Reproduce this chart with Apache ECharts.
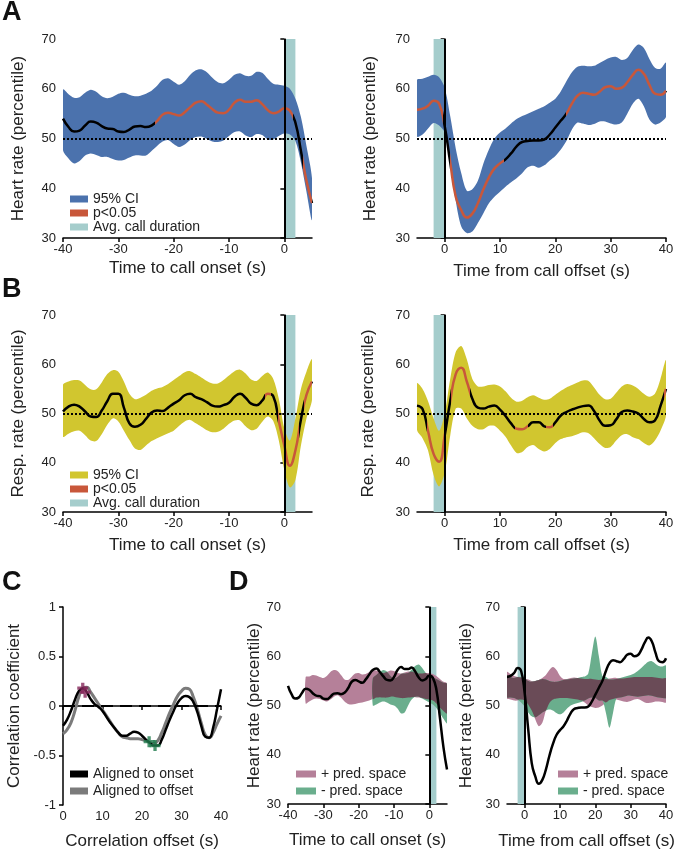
<!DOCTYPE html>
<html>
<head>
<meta charset="utf-8">
<script src="https://cdn.jsdelivr.net/npm/echarts@6/dist/echarts.min.js"></script>
<style>
html, body { margin: 0; padding: 0; background: #fff; }
#fig { width: 679px; height: 853px; }
</style>
</head>
<body>
<div id="fig"></div>
<script>
// time axes (s)
var tOnset = [-40,-39,-38,-37,-36,-35,-34,-33,-32,-31,-30,-29,-28,-27,-26,-25,-24,-23,-22,-21,-20,-19,-18,-17,-16,-15,-14,-13,-12,-11,-10,-9,-8,-7,-6,-5,-4,-3,-2,-1,0,1,2,3,4,5];
var tOffset = [-5,-4,-3,-2,-1,0,1,2,3,4,5,6,7,8,9,10,11,12,13,14,15,16,17,18,19,20,21,22,23,24,25,26,27,28,29,30,31,32,33,34,35,36,37,38,39,40];
var lags = [0,1,2,3,4,5,6,7,8,9,10,11,12,13,14,15,16,17,18,19,20,21,22,23,24,25,26,27,28,29,30,31,32,33,34,35,36,37,38,39,40];
var tPosOnset = [-35,-34,-33,-32,-31,-30,-29,-28,-27,-26,-25,-24,-23,-22,-21,-20,-19,-18,-17,-16,-15,-14,-13,-12,-11,-10,-9,-8,-7,-6,-5,-4,-3,-2,-1,0,1,2,3,4,5];
var tNegOnset = [-16,-15,-14,-13,-12,-11,-10,-9,-8,-7,-6,-5,-4,-3,-2,-1,0,1,2,3,4,5];

var onsetTicks = [-40, -30, -20, -10, 0];
var offsetTicks = [0, 10, 20, 30, 40];

// A: heart rate
var hrOnMean = [54.0,52.3,51.4,51.6,52.6,53.4,53.2,52.5,52.0,51.9,51.4,51.3,51.8,52.4,52.5,52.3,52.6,53.5,54.8,55.2,54.9,54.6,55.3,56.3,57.2,57.5,56.8,55.9,55.2,55.1,55.8,57.2,57.8,57.4,57.4,57.7,56.9,55.7,55.1,55.4,56.1,55.6,53.2,47.5,41.5,37.0];
var hrOnHi = [59.8,58.9,58.2,58.3,59.2,59.8,59.4,58.5,58.1,58.4,59.0,59.2,58.8,58.5,58.6,59.0,59.6,60.6,61.8,62.1,61.4,60.8,61.5,62.8,63.7,63.9,63.3,62.2,61.3,61.1,61.8,62.8,63.1,62.6,62.6,63.4,63.2,62.0,61.0,60.8,60.6,60.0,58.0,54.3,48.5,42.0];
var hrOnLo = [47.7,46.0,45.0,45.5,46.6,47.0,46.7,46.3,46.3,45.9,45.6,45.7,46.2,46.6,46.6,46.6,47.5,48.5,49.4,49.7,48.9,48.3,48.8,49.7,50.3,50.4,49.9,49.4,49.3,49.6,50.5,51.3,51.4,50.6,50.3,50.9,50.7,49.8,49.8,50.5,51.0,50.8,49.5,45.2,39.3,33.6];
var hrOnSig = [[-23.3, 1.6], [3.4, 5]];

var hrOffMean = [55.8,56.0,56.6,57.6,57.0,52.5,45.2,38.3,35.6,34.1,34.9,37.0,39.8,42.2,44.0,45.0,45.8,47.0,48.4,49.3,49.5,49.6,49.6,49.8,50.8,52.2,53.6,55.0,57.0,58.6,59.2,59.0,58.8,59.4,60.3,60.5,60.0,60.2,61.3,62.8,63.8,63.0,60.8,59.0,58.8,59.6];
var hrOffHi = [61.8,62.0,62.4,62.8,62.3,60.2,54.5,48.0,43.0,39.5,39.8,41.5,45.0,47.8,50.0,51.2,52.0,53.0,53.9,54.5,55.0,55.5,56.0,56.5,57.2,58.0,59.5,61.5,63.3,64.4,64.6,64.5,64.6,65.2,65.8,66.3,66.4,65.8,66.2,67.8,68.9,68.2,66.0,64.2,64.0,65.2];
var hrOffLo = [50.4,50.8,52.0,53.1,52.6,51.2,45.5,37.5,32.3,31.0,31.3,33.0,35.0,37.0,38.3,39.3,40.3,41.2,42.0,43.0,44.2,44.5,44.1,44.6,45.6,46.5,47.8,49.5,51.8,53.2,53.0,52.7,52.9,53.4,53.4,53.0,52.8,53.2,55.0,57.0,58.0,56.5,53.8,52.8,53.2,54.4];
var hrOffSig = [[-5, -0.3], [0.9, 10.7], [22, 40]];

// B: respiration rate
var rrOnMean = [50.4,51.4,51.8,51.4,50.4,49.4,49.3,50.6,52.5,54.0,54.0,51.2,48.0,47.3,47.7,48.9,50.2,50.6,50.5,51.2,52.0,52.7,53.7,54.0,53.3,52.9,52.3,51.6,51.4,51.7,52.2,53.4,54.0,53.2,52.0,51.7,52.6,54.0,53.5,48.5,43.5,39.4,42.5,48.8,53.8,56.5];
var rrOnHi = [55.8,56.5,56.8,56.7,55.8,54.9,54.9,56.3,58.0,58.8,58.5,56.5,54.0,52.9,53.2,53.8,54.6,55.1,55.4,56.0,56.8,57.6,58.4,58.6,58.0,57.3,56.6,56.1,56.1,56.8,57.7,58.6,58.9,58.1,56.9,56.6,57.6,58.3,57.0,53.0,47.0,44.5,49.0,55.0,58.5,61.0];
var rrOnLo = [45.3,45.9,46.4,46.5,45.6,44.5,44.4,45.8,47.7,49.0,48.4,46.5,44.6,42.9,42.6,43.5,44.4,45.0,45.5,46.0,46.5,47.5,48.4,48.7,48.0,47.3,46.6,46.2,46.3,46.9,47.9,48.6,48.6,47.4,46.6,46.9,48.3,49.4,48.5,44.5,38.5,35.0,36.5,43.5,49.0,52.8];
var rrOnSig = [[-3.5, -2.4], [-1.1, 2.6], [3.5, 5]];

var rrOffMean = [51.6,50.9,46.4,41.8,40.2,45.5,52.5,58.0,59.3,56.5,53.0,51.2,51.0,51.4,51.6,50.8,49.5,48.0,46.9,46.8,47.4,48.2,48.2,47.4,47.2,48.2,49.6,50.3,50.8,51.2,51.5,51.6,50.5,48.6,47.5,47.6,48.8,50.3,50.6,50.4,50.0,48.9,48.2,48.6,51.5,55.0];
var rrOffHi = [56.1,55.0,52.5,49.0,46.5,50.0,57.0,62.5,63.7,61.0,57.0,55.5,55.5,55.8,55.9,55.5,54.5,53.2,52.4,52.6,53.3,53.7,53.2,52.8,53.0,53.8,54.6,55.3,55.8,56.3,56.7,56.6,55.3,53.8,52.9,53.0,54.2,55.5,56.0,55.7,55.0,54.0,53.4,54.0,57.0,60.8];
var rrOffLo = [46.7,45.0,42.5,37.5,35.2,38.0,45.5,51.0,51.0,49.0,47.5,46.8,46.8,47.5,47.5,46.5,45.3,43.5,42.0,42.2,43.2,43.6,42.8,42.3,42.8,44.0,44.8,45.2,45.4,45.8,46.2,46.0,45.0,43.8,43.0,43.2,44.5,45.6,45.8,45.2,44.8,44.0,43.5,44.5,46.5,49.7];
var rrOffSig = [[-3.2, 0.3], [1.2, 4.6], [12.7, 15.1], [18.4, 19.6], [39.6, 40]];

// C: correlation
var corrOnset = [-0.20,-0.14,-0.05,0.06,0.15,0.18,0.14,0.07,0.02,-0.01,-0.05,-0.11,-0.17,-0.22,-0.27,-0.30,-0.30,-0.28,-0.26,-0.27,-0.30,-0.34,-0.37,-0.40,-0.40,-0.34,-0.24,-0.14,-0.05,0.03,0.08,0.10,0.09,0.04,-0.06,-0.20,-0.31,-0.32,-0.22,-0.03,0.17];
var corrOffset = [-0.28,-0.24,-0.17,-0.05,0.09,0.18,0.19,0.14,0.08,0.02,-0.04,-0.10,-0.16,-0.22,-0.27,-0.31,-0.32,-0.33,-0.33,-0.33,-0.34,-0.35,-0.37,-0.38,-0.35,-0.27,-0.17,-0.07,0.02,0.10,0.15,0.18,0.17,0.09,-0.03,-0.17,-0.29,-0.32,-0.27,-0.18,-0.10];
var peakPos = [[5.0, 0.18], [5.6, 0.14]];
var peakNeg = [[21.8, -0.36], [23.3, -0.40]];

// D: prediction spaces
var posOnHi = [55.8,55.9,56.2,56.1,55.8,55.6,56.0,56.8,57.2,57.0,56.2,55.3,55.2,55.8,56.5,56.6,56.3,56.4,56.8,57.1,57.1,56.8,56.6,56.8,57.1,57.0,56.6,56.5,56.7,56.9,56.9,56.6,56.5,56.5,56.6,56.6,56.4,56.0,55.4,54.8,54.5];
var posOnLo = [50.4,50.8,51.2,51.4,51.3,51.0,50.8,51.2,51.8,52.1,51.6,50.8,50.3,50.2,50.3,50.5,50.6,50.8,51.0,51.3,51.6,51.7,51.6,51.6,51.8,51.8,51.6,51.5,51.5,51.6,51.7,51.7,51.6,51.5,51.3,51.2,51.0,50.4,49.6,48.9,48.4];
var negOnHi = [55.5,56.2,56.8,57.2,56.9,56.0,55.5,55.8,56.4,56.5,56.6,57.3,58.0,58.3,57.6,56.6,56.0,55.7,55.4,55.0,54.6,54.4];
var negOnLo = [50.0,50.2,50.6,50.8,50.6,50.2,50.0,49.4,48.4,48.6,50.0,51.2,51.8,51.8,51.4,51.0,50.6,50.2,49.5,48.5,47.3,46.4];

var posOffHi = [56.8,56.4,56.0,55.8,55.7,55.5,55.3,55.0,55.0,55.2,55.6,56.2,57.2,57.8,57.2,56.0,55.4,55.4,55.6,55.7,55.6,55.5,55.4,55.4,55.4,55.3,55.2,55.3,55.4,55.5,55.6,55.6,55.5,55.5,55.6,55.7,55.8,55.8,55.8,55.8,55.8,55.8,55.7,55.6,55.5,55.5];
var posOffLo = [51.4,51.2,51.0,51.0,51.2,51.0,50.2,49.0,47.2,45.8,46.5,49.0,50.5,51.2,51.4,51.5,51.5,51.5,51.4,51.3,51.2,51.0,50.6,50.0,49.7,49.5,49.6,50.0,50.6,51.1,51.3,51.2,51.0,50.8,50.7,50.9,51.2,51.3,51.0,50.6,50.5,50.6,50.8,50.8,50.7,50.6];
var negOffHi = [56.1,55.8,55.6,55.8,55.8,55.5,55.0,54.8,55.0,55.2,55.4,55.3,55.0,54.8,54.8,55.0,55.2,55.3,55.4,55.5,55.6,55.8,55.9,56.5,60.5,64.0,60.0,56.0,55.8,55.3,55.3,55.4,55.6,55.8,56.0,56.2,56.5,57.0,57.6,58.3,58.9,59.0,58.5,58.0,57.9,58.1];
var negOffLo = [51.7,51.6,51.5,51.2,50.6,49.8,48.6,47.8,47.6,48.0,48.6,49.0,49.2,49.0,48.5,48.2,48.6,49.4,50.0,50.3,50.5,50.7,51.0,51.4,51.6,51.5,51.0,51.0,48.5,45.5,48.5,51.5,51.6,51.8,52.0,52.0,51.9,51.8,51.9,52.0,52.1,52.0,51.8,51.6,51.5,51.5];

var ink = '#222';
var ciBlue = '#4b72ad';
var ciYellow = '#d1c62f';
var sigRed = '#c8573a';
var durTeal = '#a5cdcc';
var posPink = '#b58099';
var negGreen = '#6aae8d';
var bothDark = '#6a4b57';
var offsetGray = '#7b7b7b';

var fig = echarts.init(document.getElementById('fig'));

function pairs(xs, ys) {
    return xs.map(function (x, i) { return [x, ys[i]]; });
}

var series = [];
var visualMaps = [];

// filled band between lo and hi, drawn as one smoothed polygon
function addBand(g, xs, lo, hi, color, z) {
    var pts = xs.map(function (x, i) { return [x, lo[i], Math.max(hi[i], lo[i])]; });
    series.push({
        type: 'custom', xAxisIndex: g, yAxisIndex: g, silent: true, z: z, clip: true,
        data: pts, encode: {x: 0, y: [1, 2]},
        renderItem: function (params, api) {
            if (params.dataIndex !== 0) return null;
            var top = pts.map(function (p) { return api.coord([p[0], p[2]]); });
            var bottom = pts.map(function (p) { return api.coord([p[0], p[1]]); }).reverse();
            return {
                type: 'polygon',
                shape: {points: top.concat(bottom), smooth: 0.3},
                style: {fill: color}
            };
        }
    });
}

function addMean(g, xs, ys, sig) {
    var s = {
        type: 'line', xAxisIndex: g, yAxisIndex: g, silent: true, z: 4,
        data: pairs(xs, ys), smooth: true, symbol: 'none',
        lineStyle: {width: 2.5}
    };
    if (!sig) s.lineStyle.color = '#000';
    series.push(s);
    if (sig) {
        visualMaps.push({
            type: 'piecewise', show: false, dimension: 0, seriesIndex: series.length - 1,
            pieces: sig.map(function (r) { return {gte: r[0], lte: r[1], color: sigRed}; }),
            outOfRange: {color: '#000'}
        });
    }
}

// call duration strip (under or over the bands) and the onset/offset and chance lines on top
function addCallMarks(g, dur, dotted, areaZ) {
    series.push({
        type: 'line', xAxisIndex: g, yAxisIndex: g, data: [], silent: true, z: areaZ,
        markArea: {silent: true, itemStyle: {color: durTeal}, data: [[{xAxis: dur[0]}, {xAxis: dur[1]}]]}
    });
    var lines = [{xAxis: 0, lineStyle: {color: '#000', width: 2, type: 'solid'}}];
    if (dotted) lines.push({yAxis: 50, lineStyle: {color: '#000', width: 2, type: [2, 2]}});
    series.push({
        type: 'line', xAxisIndex: g, yAxisIndex: g, data: [], silent: true, z: 5,
        markLine: {silent: true, symbol: 'none', label: {show: false}, data: lines}
    });
}

function legendKey(g, name, color) {
    series.push({type: 'bar', name: name, xAxisIndex: g, yAxisIndex: g, data: [], itemStyle: {color: color}});
}

// overlap of the two prediction spaces
function overlap(xsA, loA, hiA, xsB, loB, hiB) {
    var xs = [], lo = [], hi = [];
    xsB.forEach(function (x, i) {
        var j = xsA.indexOf(x);
        if (j < 0) return;
        var l = Math.max(loA[j], loB[i]), h = Math.min(hiA[j], hiB[i]);
        xs.push(x); lo.push(l); hi.push(Math.max(h, l));
    });
    return {xs: xs, lo: lo, hi: hi};
}

// A
addCallMarks(0, [0, 2], true, 1);
addBand(0, tOnset, hrOnLo, hrOnHi, ciBlue, 2);
addMean(0, tOnset, hrOnMean, hrOnSig);
addCallMarks(1, [-2, 0], true, 1);
addBand(1, tOffset, hrOffLo, hrOffHi, ciBlue, 2);
addMean(1, tOffset, hrOffMean, hrOffSig);
legendKey(0, 'ciA', ciBlue);
legendKey(0, 'sig', sigRed);
legendKey(0, 'dur', durTeal);

// B
addCallMarks(2, [0, 2], true, 1);
addBand(2, tOnset, rrOnLo, rrOnHi, ciYellow, 2);
addMean(2, tOnset, rrOnMean, rrOnSig);
addCallMarks(3, [-2, 0], true, 1);
addBand(3, tOffset, rrOffLo, rrOffHi, ciYellow, 2);
addMean(3, tOffset, rrOffMean, rrOffSig);
legendKey(2, 'ciB', ciYellow);

// C
series.push({
    type: 'line', xAxisIndex: 4, yAxisIndex: 4, data: [], silent: true, z: 2,
    markLine: {silent: true, symbol: 'none', label: {show: false},
        data: [{yAxis: 0, lineStyle: {color: '#000', width: 2, type: [12, 7]}}]}
});
series.push({type: 'line', xAxisIndex: 4, yAxisIndex: 4, data: pairs(lags, corrOffset), smooth: true,
    symbol: 'none', silent: true, z: 3, lineStyle: {width: 3, color: offsetGray}});
series.push({type: 'line', xAxisIndex: 4, yAxisIndex: 4, data: pairs(lags, corrOnset), smooth: true,
    symbol: 'none', silent: true, z: 4, lineStyle: {width: 2.5, color: '#000'}});
var plusPath = 'path://M3.5,0h3v3.5h3.5v3h-3.5v3.5h-3v-3.5h-3.5v-3h3.5z';
series.push({type: 'scatter', xAxisIndex: 4, yAxisIndex: 4, data: peakPos, symbol: plusPath,
    symbolSize: 11, silent: true, z: 6, itemStyle: {color: '#86285b'}});
series.push({type: 'scatter', xAxisIndex: 4, yAxisIndex: 4, data: peakNeg, symbol: plusPath,
    symbolSize: 11, silent: true, z: 6, itemStyle: {color: '#1e7b4c'}});
legendKey(4, 'onsetKey', '#000');
legendKey(4, 'offsetKey', offsetGray);

// D
var ovOn = overlap(tPosOnset, posOnLo, posOnHi, tNegOnset, negOnLo, negOnHi);
addBand(5, tPosOnset, posOnLo, posOnHi, posPink, 2);
addBand(5, tNegOnset, negOnLo, negOnHi, negGreen, 2);
addBand(5, ovOn.xs, ovOn.lo, ovOn.hi, bothDark, 2);
addCallMarks(5, [0, 2], false, 3);
addMean(5, tOnset, hrOnMean, null);

var ovOff = overlap(tOffset, posOffLo, posOffHi, tOffset, negOffLo, negOffHi);
addBand(6, tOffset, posOffLo, posOffHi, posPink, 2);
addBand(6, tOffset, negOffLo, negOffHi, negGreen, 2);
addBand(6, ovOff.xs, ovOff.lo, ovOff.hi, bothDark, 2);
addCallMarks(6, [-2, 0], false, 3);
addMean(6, tOffset, hrOffMean, null);
legendKey(5, 'posKey', posPink);
legendKey(5, 'negKey', negGreen);

var legendText = {
    ciA: '95% CI', ciB: '95% CI', sig: 'p<0.05', dur: 'Avg. call duration',
    onsetKey: 'Aligned to onset', offsetKey: 'Aligned to offset',
    posKey: '+ pred. space', negKey: '- pred. space'
};

function legendAt(left, top, names, w, lh) {
    return {
        left: left, top: top, orient: 'vertical', icon: 'rect', selectedMode: false,
        itemWidth: w, itemHeight: 7, itemGap: lh > 13 ? 3 : 0, padding: 0,
        data: names,
        formatter: function (n) { return legendText[n]; },
        textStyle: {fontSize: 14, color: ink, lineHeight: lh}
    };
}

function xAx(g, min, max, ticks, name, gap) {
    return {
        type: 'value', gridIndex: g, min: min, max: max,
        name: name, nameLocation: 'middle', nameGap: gap,
        nameTextStyle: {fontSize: 17, color: ink},
        axisLine: {lineStyle: {color: '#000', width: 1.5}},
        axisTick: {customValues: ticks, length: 4, lineStyle: {color: '#000', width: 1.5}},
        axisLabel: {customValues: ticks, fontSize: 13, color: ink, margin: 5},
        splitLine: {show: false}
    };
}

function yAx(g, min, max, step, name, gap) {
    return {
        type: 'value', gridIndex: g, min: min, max: max, interval: step,
        name: name, nameLocation: 'middle', nameGap: gap,
        nameTextStyle: {fontSize: 17, color: ink},
        axisLine: {show: true, lineStyle: {color: '#000', width: 1.5}},
        axisTick: {show: true, length: 4, lineStyle: {color: '#000', width: 1.5}},
        axisLabel: {fontSize: 13, color: ink, margin: 7},
        splitLine: {show: false}
    };
}

var letterFont = 'bold 27px "Liberation Sans", Arial, sans-serif';

fig.setOption({
    animation: false,
    textStyle: {fontFamily: '"Liberation Sans", Arial, sans-serif'},
    grid: [
        {left: 63, top: 39, width: 249, height: 199},
        {left: 417, top: 39, width: 249, height: 199},
        {left: 63, top: 315, width: 249, height: 197},
        {left: 417, top: 315, width: 249, height: 197},
        {left: 63, top: 607, width: 158, height: 198},
        {left: 288, top: 607, width: 159, height: 197},
        {left: 507, top: 607, width: 159, height: 197}
    ],
    xAxis: [
        xAx(0, -40, 5, onsetTicks, 'Time to call onset (s)', 22),
        xAx(1, -5, 40, offsetTicks, 'Time from call offset (s)', 25),
        xAx(2, -40, 5, onsetTicks, 'Time to call onset (s)', 25),
        xAx(3, -5, 40, offsetTicks, 'Time from call offset (s)', 25),
        xAx(4, 0, 40, offsetTicks, 'Correlation offset (s)', 28),
        xAx(5, -40, 5, onsetTicks, 'Time to call onset (s)', 28),
        xAx(6, -5, 40, offsetTicks, 'Time from call offset (s)', 29)
    ],
    yAxis: [
        yAx(0, 30, 70, 10, 'Heart rate (percentile)', 36),
        yAx(1, 30, 70, 10, 'Heart rate (percentile)', 38),
        yAx(2, 30, 70, 10, 'Resp. rate (percentile)', 36),
        yAx(3, 30, 70, 10, 'Resp. rate (percentile)', 40),
        yAx(4, -1, 1, 0.5, 'Correlation coefficient', 40),
        yAx(5, 30, 70, 10, 'Heart rate (percentile)', 25),
        yAx(6, 30, 70, 10, 'Heart rate (percentile)', 32)
    ],
    visualMap: visualMaps,
    legend: [
        legendAt(70, 192, ['ciA', 'sig', 'dur'], 18, 13),
        legendAt(70, 468, ['ciB', 'sig', 'dur'], 18, 13),
        legendAt(70, 767, ['onsetKey', 'offsetKey'], 18, 14),
        legendAt(296, 767, ['posKey', 'negKey'], 20, 14),
        legendAt(558, 767, ['posKey', 'negKey'], 20, 14)
    ],
    graphic: [
        {type: 'text', left: 2, top: -1, style: {text: 'A', font: letterFont, fill: '#111'}},
        {type: 'text', left: 2, top: 276, style: {text: 'B', font: letterFont, fill: '#111'}},
        {type: 'text', left: 2, top: 569, style: {text: 'C', font: letterFont, fill: '#111'}},
        {type: 'text', left: 229, top: 569, style: {text: 'D', font: letterFont, fill: '#111'}}
    ],
    series: series
});
</script>
</body>
</html>
